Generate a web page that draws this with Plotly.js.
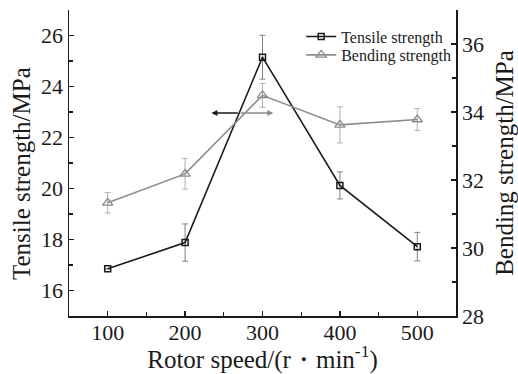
<!DOCTYPE html>
<html>
<head>
<meta charset="utf-8">
<script src="https://cdn.plot.ly/plotly-3.0.1.min.js"></script>
<style>html,body{margin:0;padding:0;background:#fff;}#chart{width:518px;height:374px;}</style>
</head>
<body>
<div id="chart"></div>
<script>
const rotorSpeed = [100, 200, 300, 400, 500];
const tensileStrength = [16.85, 17.88, 25.15, 20.12, 17.72];
const tensileError = [0, 0.73, 0.86, 0.53, 0.56];
const bendingStrength = [31.33, 32.18, 34.49, 33.62, 33.78];
const bendingError = [0.3, 0.45, 0.35, 0.53, 0.32];
const xTicks = [100, 200, 300, 400, 500];
const leftTicks = [16, 18, 20, 22, 24, 26];
const rightTicks = [28, 30, 32, 34, 36];

const serif = "Liberation Serif, Times New Roman, serif";
const ink = "#1a1a1a";

const traces = [
  {
    x: rotorSpeed, y: tensileStrength, name: "Tensile strength", legend: "legend",
    type: "scatter", mode: "lines+markers",
    line: {color: ink, width: 1.6},
    marker: {symbol: "square-open", size: 6, color: ink, line: {width: 1.5}},
    error_y: {type: "data", array: tensileError, visible: true, color: "#808080", thickness: 1, width: 3}
  },
  {
    x: rotorSpeed, y: bendingStrength, name: "Bending strength", yaxis: "y2", legend: "legend2",
    type: "scatter", mode: "lines+markers",
    line: {color: "#8c8c8c", width: 1.6},
    marker: {symbol: "triangle-up-open", size: 9, color: "#8c8c8c", line: {width: 1.3}},
    error_y: {type: "data", array: bendingError, visible: true, color: "#b0b0b0", thickness: 1, width: 3}
  }
];

const axisCommon = {
  showline: true, linecolor: ink, linewidth: 1.5,
  ticks: "inside", ticklen: 5, tickwidth: 1.3, tickcolor: ink,
  showgrid: false, zeroline: false,
  tickfont: {family: serif, size: 22, color: ink}
};
const titleFont = {family: serif, size: 25, color: ink};
const legendFont = {family: serif, size: 16, color: ink};

const layout = {
  width: 518, height: 374,
  margin: {l: 69, r: 62, t: 10, b: 58},
  paper_bgcolor: "#fff", plot_bgcolor: "#fff",
  showlegend: true,
  legend: {x: 0.6, y: 0.913, xanchor: "left", yanchor: "middle", bgcolor: "rgba(0,0,0,0)",
           font: legendFont, itemwidth: 30},
  legend2: {x: 0.6, y: 0.853, xanchor: "left", yanchor: "middle", bgcolor: "rgba(0,0,0,0)",
           font: legendFont, itemwidth: 30},
  xaxis: Object.assign({}, axisCommon, {
    range: [50, 550], tickvals: xTicks, ticklabelstandoff: -4,
    minor: {dtick: 50, tick0: 50, ticks: "inside", ticklen: 4, tickcolor: ink},
    title: {text: "Rotor speed/(r・min<sup>-1</sup>)", standoff: 3, font: titleFont}
  }),
  yaxis: Object.assign({}, axisCommon, {
    range: [15, 27], tickvals: leftTicks,
    minor: {dtick: 1, tick0: 15, ticks: "inside", ticklen: 4, tickcolor: ink}
  }),
  yaxis2: Object.assign({}, axisCommon, {
    overlaying: "y", side: "right",
    range: [28, 37], tickvals: rightTicks,
    minor: {dtick: 1, tick0: 28, ticks: "inside", ticklen: 4, tickcolor: ink},
    title: {text: "Bending strength/MPa", standoff: 13, font: titleFont}
  }),
  annotations: [
    {text: "Tensile strength/MPa", xref: "paper", yref: "paper", x: -0.124, y: 0.464,
     xanchor: "center", yanchor: "middle", textangle: -90, showarrow: false, font: titleFont},
    {x: 234, y: 22.96, ax: 270, ay: 22.96, xref: "x", yref: "y", axref: "x", ayref: "y",
     text: "", showarrow: true, arrowhead: 2, arrowsize: 0.8, arrowwidth: 1.5, arrowcolor: ink},
    {x: 314, y: 22.96, ax: 270, ay: 22.96, xref: "x", yref: "y", axref: "x", ayref: "y",
     text: "", showarrow: true, arrowhead: 2, arrowsize: 0.8, arrowwidth: 1.5, arrowcolor: "#8c8c8c"}
  ]
};

Plotly.newPlot("chart", traces, layout, {displayModeBar: false, staticPlot: true});
</script>
</body>
</html>
